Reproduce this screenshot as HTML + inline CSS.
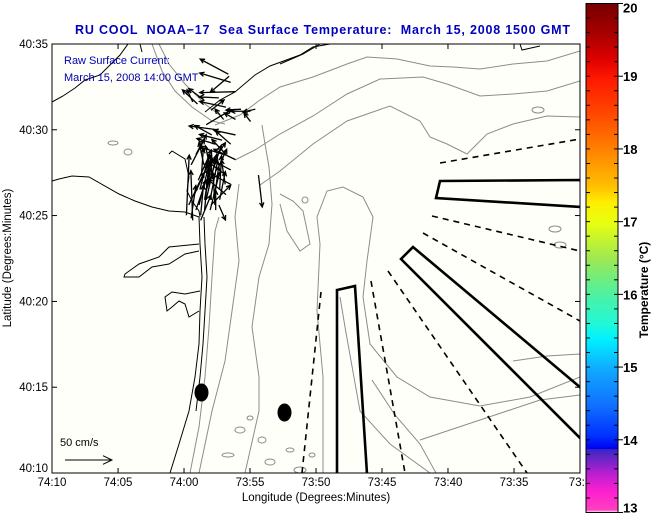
<!DOCTYPE html>
<html><head><meta charset="utf-8"><style>
html,body{margin:0;padding:0;background:#fff;}
svg{display:block;font-family:"Liberation Sans",Arial,sans-serif;}
</style></head><body>
<svg id="chart" width="651" height="518" viewBox="0 0 651 518" xmlns="http://www.w3.org/2000/svg">
<defs>
<linearGradient id="cbgrad" x1="0" y1="0" x2="0" y2="1">
<stop offset="0" stop-color="#760000"/>
<stop offset="0.06" stop-color="#a80000"/>
<stop offset="0.11" stop-color="#e00000"/>
<stop offset="0.15" stop-color="#ff1a00"/>
<stop offset="0.22" stop-color="#ff4a00"/>
<stop offset="0.29" stop-color="#ff8400"/>
<stop offset="0.36" stop-color="#ffc000"/>
<stop offset="0.39" stop-color="#ffee00"/>
<stop offset="0.43" stop-color="#e8ff10"/>
<stop offset="0.50" stop-color="#a0e850"/>
<stop offset="0.57" stop-color="#50f0a0"/>
<stop offset="0.63" stop-color="#20f8d8"/>
<stop offset="0.66" stop-color="#00f0ff"/>
<stop offset="0.72" stop-color="#10a8ff"/>
<stop offset="0.79" stop-color="#1070ff"/>
<stop offset="0.85" stop-color="#0030ff"/>
<stop offset="0.875" stop-color="#0000ee"/>
<stop offset="0.876" stop-color="#3828c0"/>
<stop offset="0.92" stop-color="#b020d0"/>
<stop offset="0.96" stop-color="#ff20d0"/>
<stop offset="0.995" stop-color="#ff40c0"/>
<stop offset="1" stop-color="#ffffff"/>
</linearGradient>
<clipPath id="plotclip"><rect x="52" y="44" width="528" height="429"/></clipPath>
</defs>
<rect x="52" y="44" width="528" height="429" fill="#fffffa"/>
<text x="75" y="34" textLength="495" lengthAdjust="spacing" font-size="12.5" font-weight="bold" fill="#0000c0" xml:space="preserve" style="white-space:pre">RU COOL  NOAA−17  Sea Surface Temperature:  March 15, 2008 1500 GMT</text>
<g id="mapg" clip-path="url(#plotclip)"></g>
<g id="vecg" clip-path="url(#plotclip)"></g>
<text x="64" y="64" font-size="11" fill="#0000b0">Raw Surface Current:</text>
<text x="64" y="81" font-size="11" fill="#0000b0">March 15, 2008 14:00 GMT</text>
<text x="60" y="446" font-size="11" fill="#000">50 cm/s</text>
<g id="scaleg"></g>
<g id="axesg"></g>
<rect x="52" y="44" width="528" height="429" fill="none" stroke="#000" stroke-width="1"/>
<text x="316" y="501" text-anchor="middle" font-size="11.5">Longitude (Degrees:Minutes)</text>
<text transform="translate(11,258) rotate(-90)" text-anchor="middle" font-size="11.5">Latitude (Degrees:Minutes)</text>
<rect x="586" y="3.5" width="32" height="509" fill="url(#cbgrad)" stroke="#000" stroke-width="1"/>
<g id="cbg"></g>
<text transform="translate(648,290) rotate(-90)" text-anchor="middle" font-size="12" font-weight="bold">Temperature (°C)</text>
</svg>
<script>
// ---- data ----
var xTickLabels = ["74:10","74:05","74:00","73:55","73:50","73:45","73:40","73:35","73:3"];
var xTickLon = [-74.1667,-74.0833,-74.0,-73.9167,-73.8333,-73.75,-73.6667,-73.5833,-73.5];
var yTickLabels = ["40:10","40:15","40:20","40:25","40:30","40:35"];
var yTickLat = [40.1667,40.25,40.3333,40.4167,40.5,40.5833];
var cbValues = [13,14,15,16,17,18,19,20];
// current vectors: origin lon, lat and u (east), v (north) in cm/s
var vecLon = [-73.941,-73.935,-73.944,-73.956,-73.947,-73.928,-73.916,-73.916,-73.910,-73.935,-73.950,-73.935,-73.941,-73.947,-73.935,-73.941,-73.947,-73.941,-73.947,-73.956,-73.985,-73.991,-73.982,-73.987,-73.994,-73.985,-73.979,-73.991,-73.997,-73.981,-73.972,-73.972,-73.989,-73.979,-73.966,-73.960,-73.956,-73.906,-73.975,-73.966,-73.972,-73.943,-73.983,-73.989,
 -73.974,-73.967,-73.961,-73.955,-73.948,-73.974,-73.967,-73.961,-73.955,-73.980,-73.970,-73.964,-73.958,-73.978,-73.968,-73.962,-73.950,-73.960,-73.965,-73.975,-73.958,-73.952];
var vecLat = [40.546,40.537,40.554,40.531,40.522,40.520,40.518,40.508,40.520,40.510,40.510,40.495,40.486,40.476,40.471,40.461,40.456,40.447,40.437,40.466,40.476,40.466,40.451,40.437,40.427,40.422,40.417,40.414,40.417,40.427,40.432,40.441,40.412,40.412,40.427,40.422,40.427,40.456,40.529,40.519,40.505,40.552,40.525,40.527,
 40.432,40.432,40.437,40.442,40.447,40.422,40.422,40.427,40.432,40.442,40.446,40.452,40.461,40.456,40.466,40.471,40.476,40.486,40.495,40.466,40.500,40.490];
var vecU = [-33,-38,-30,-21,-28,-16,-21,-7,-13,-12,-9,-23,-16,-15,-23,-21,-19,-21,-19,-12,11,14,14,15,16,11,3,5,3,13,11,16,-2,11,21,0,7,4,-16,14,27,-20,-16,-6,
 6,8,4,2,-4,4,10,-2,6,8,5,-3,10,2,-4,12,-25,-20,-18,-5,-30,-24];
var vecV = [10,-1,16,1,6,-1,0,9,-3,7,11,5,14,16,11,11,14,11,16,11,21,27,32,32,34,32,32,35,64,53,48,48,53,27,21,21,-16,-34,12,11,16,-17,15,13,
 38,42,30,36,26,44,40,34,30,30,28,26,22,28,20,18,8,6,10,24,4,6];
// ---- axis functions ----
var X0=52,X1=580,Y0=473,Y1=44;
var lonMin=-74.1667,lonMax=-73.5,latMin=40.1667,latMax=40.5833;
function xs(lon){return X0+(lon-lonMin)/(lonMax-lonMin)*(X1-X0);}
function ys(lat){return Y0-(lat-latMin)/(latMax-latMin)*(Y0-Y1);}
var PX_PER_CMS=0.94;
function cbY(t){return 512.5-(t-13)/7*509;}
var NS="http://www.w3.org/2000/svg";
function mk(tag,attrs,parent){var e=document.createElementNS(NS,tag);for(var k in attrs)e.setAttribute(k,attrs[k]);parent.appendChild(e);return e;}
var mapg=document.getElementById('mapg'),vecg=document.getElementById('vecg'),axesg=document.getElementById('axesg'),cbg=document.getElementById('cbg');
function pts(a,close){var s="";for(var i=0;i<a.length;i+=2)s+=(i?"L":"M")+a[i]+" "+a[i+1];return close?s+"Z":s;}
// gray bathymetry contours
var grayPaths=[
[152,44,162,71,175,91,192,107,212,121,225,124],
[159,44,169,64,185,84,205,104,222,117],
[215,125,240,115,260,100,280,87,313,77,347,64,367,57,397,59,430,66,453,67,480,69,513,64,547,61,580,51],
[235,160,255,150,280,134,313,116,347,94,380,79,423,77,447,84,480,96,513,94,547,91,580,81],
[260,185,280,171,313,144,347,121,390,106,420,121,430,137,447,144,467,154,487,134,513,124,547,116,580,117],
[323,473,323,377,317,311,320,244,317,217,327,191,343,187,363,197,373,217,367,261,363,297,370,344,397,377,430,397,480,406,530,397,580,377],
[340,297,345,327,360,411,390,444,430,473],
[372,380,395,415,420,444,436,473],
[280,194,293,201,303,211,310,244,300,251,287,231,280,204],
[190,473,199,427,205,377,209,327,212,277,215,231,219,217],
[199,473,212,411,225,361,232,311,239,261,235,217,239,184],
[245,473,259,411,259,377,252,327,259,277,269,244,272,204,269,167,265,144,262,125],
[513,361,547,356,580,354],
[420,440,480,420,540,400,580,395]
];
for(var i=0;i<grayPaths.length;i++){
var p=mk('path',{d:pts(grayPaths[i]),fill:'none',stroke:'#8c8c8c','stroke-width':1},mapg);


}
var blobs=[[240,430,5,3],[262,440,4,3],[228,455,6,2],[290,450,4,2],[270,462,5,3],[250,418,3,2],[300,470,6,3],[312,455,3,2],[555,229,6,3],[560,245,6,3],[538,110,6,3],[305,200,3,3],[113,143,5,2],[128,152,4,3]];
for(var i=0;i<blobs.length;i++){
var b=mk('ellipse',{cx:blobs[i][0],cy:blobs[i][1],rx:blobs[i][2],ry:blobs[i][3],fill:'none',stroke:'#8c8c8c','stroke-width':1},mapg);


}
// black coastline
var coastPaths=[
[52,181,59,179,72,176,89,177,119,194,135,201,152,207,169,211,185,212,199,217],
[169,154,172,151,185,159,189,177,187,191,192,201,199,211,200,217],
[199,217,200,244,202,277,200,311,199,344,195,377,189,411,179,444,170,473],
[204,217,205,244,207,277,205,311,203,344,200,377,196,411],
[199,244,179,246,169,247,159,257,139,264,125,274,124,277,139,277,152,267,169,264,185,254,199,251],
[200,291,185,294,172,292,165,297,167,311,172,307,179,301,185,304,189,317,199,311],
[52,102,63,96,75,88,85,80,100,75,110,65,120,55,128,44],
[205,112,220,100,235,92,255,75,270,66,300,55,313,47,330,44],
[280,64,303,54,320,44],
[520,44,522,50,540,46],
[140,44,142,52]
];
for(var i=0;i<coastPaths.length;i++){
var c=mk('path',{d:pts(coastPaths[i]),fill:'none',stroke:'#000','stroke-width':1},mapg);


}
// radial dashed lines
var dashLines=[[440,163,580,139],[432,216,580,251],[423,233,580,321],[388,271,527,473],[371,281,405,473],[321,292,302,473]];
for(var i=0;i<dashLines.length;i++){
var d=dashLines[i];
var l=mk('line',{x1:d[0],y1:d[1],x2:d[2],y2:d[3],stroke:'#000','stroke-width':1.6,'stroke-dasharray':'6 5'},mapg);


}
var polys=[[337,474,337,290,355,286,367,474],[436,198,440,181,581,180,581,207],[401,259,413,247,581,388,581,439]];
for(var i=0;i<polys.length;i++){
var pg=mk('path',{d:pts(polys[i],true),fill:'none',stroke:'#000','stroke-width':2.6,'stroke-linejoin':'miter'},mapg);


}
var e1=mk('ellipse',{cx:201.5,cy:392.5,rx:7,ry:9,fill:'#000'},mapg);


var e2=mk('ellipse',{cx:284.5,cy:412.5,rx:7,ry:9,fill:'#000'},mapg);


// vectors
function arrow(x0,y0,x1,y1,g,h,w){
var a=Math.atan2(y1-y0,x1-x0);
var s="M"+x0+" "+y0+"L"+x1+" "+y1+"M"+(x1-h*Math.cos(a-0.45))+" "+(y1-h*Math.sin(a-0.45))+"L"+x1+" "+y1+"L"+(x1-h*Math.cos(a+0.45))+" "+(y1-h*Math.sin(a+0.45));
return mk('path',{d:s,fill:'none',stroke:'#000','stroke-width':w||1.3},g);
}
for(var i=0;i<vecLon.length;i++){
var x0=xs(vecLon[i]),y0=ys(vecLat[i]);
var x1=x0+vecU[i]*PX_PER_CMS,y1=y0-vecV[i]*PX_PER_CMS;
var v=arrow(x0,y0,x1,y1,vecg,5);


}
var sa=arrow(65,460,112,460,document.getElementById('scaleg'),10,1);


// axes ticks
for(var i=0;i<xTickLon.length;i++){
var x=xs(xTickLon[i]);
var t1=mk('line',{x1:x,y1:473,x2:x,y2:468,stroke:'#000'},axesg);


var t2=mk('line',{x1:x,y1:44,x2:x,y2:49,stroke:'#000'},axesg);


var tl=mk('text',{x:x,y:486,'text-anchor':'middle','font-size':11.5},axesg);
tl.textContent=xTickLabels[i];


}
for(var i=0;i<yTickLat.length;i++){
var y=ys(yTickLat[i]);
var t3=mk('line',{x1:52,y1:y,x2:57,y2:y,stroke:'#000'},axesg);


var t4=mk('line',{x1:580,y1:y,x2:575,y2:y,stroke:'#000'},axesg);


var yl=mk('text',{x:48,y:y+(i==0?-1:4),'text-anchor':'end','font-size':11.5},axesg);
yl.textContent=yTickLabels[i];


}
// colorbar ticks
for(var t=13;t<=20.001;t+=0.2){
var yy=cbY(t);
var m1=mk('line',{x1:586,y1:yy,x2:590,y2:yy,stroke:'#000'},cbg);


var m2=mk('line',{x1:618,y1:yy,x2:614,y2:yy,stroke:'#000'},cbg);


}
for(var i=0;i<cbValues.length;i++){
var yv=cbY(cbValues[i]);
var mt=mk('line',{x1:618,y1:yv,x2:623,y2:yv,stroke:'#000'},cbg);


var ct=mk('text',{x:623,y:yv+(i==cbValues.length-1?9:i==0?0:5),'font-size':13,'font-weight':'bold'},cbg);
ct.textContent=cbValues[i];


}
</script>
</body></html>
